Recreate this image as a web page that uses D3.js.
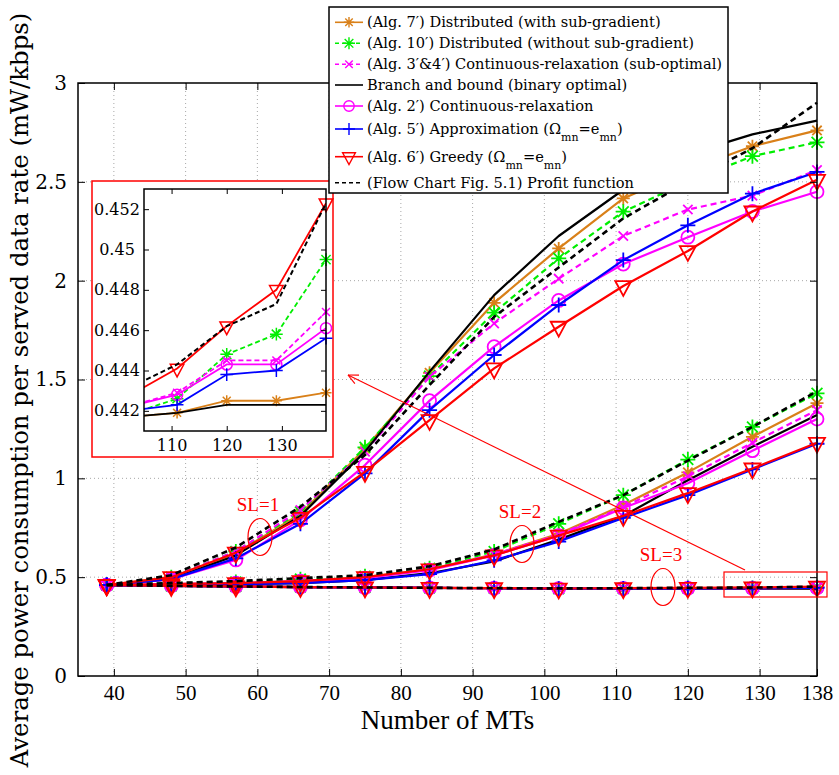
<!DOCTYPE html>
<html><head><meta charset="utf-8">
<script src="https://cdn.jsdelivr.net/npm/d3@7"></script>
<style>body{margin:0;background:#fff}</style>
</head><body>
<svg id="c" width="839" height="775" xmlns="http://www.w3.org/2000/svg"></svg>
<script>
// ---------- data ----------
const mtCounts=[39,48,57,66,75,84,93,102,111,120,129,138];
const xTickValues=[40,50,60,70,80,90,100,110,120,130,138];
const yTickValues=[0,0.5,1,1.5,2,2.5,3];
const gridX=[40,50,60,70,80,90,100,110,120,130];
const gridY=[0.5,1,1.5,2,2.5];
const insetXTicks=[110,120,130];
const insetYTicks=[0.442,0.444,0.446,0.448,0.45,0.452];
const insetYLabels=['0.442','0.444','0.446','0.448','0.45','0.452'];

// SL=1
const alg7SL1 =[0.46,0.50,0.62,0.82,1.15,1.534,1.888,2.163,2.416,2.56,2.68,2.76];
const alg10SL1=[0.46,0.50,0.63,0.83,1.157,1.517,1.838,2.113,2.349,2.50,2.63,2.70];
const alg34SL1=[0.46,0.50,0.63,0.84,1.135,1.514,1.784,2.01,2.226,2.36,2.43,2.56];
const bnbSL1  =[0.46,0.49,0.61,0.81,1.135,1.54,1.927,2.226,2.46,2.64,2.74,2.81];
const alg2SL1 =[0.46,0.49,0.587,0.79,1.067,1.393,1.666,1.90,2.084,2.22,2.35,2.45];
const alg5SL1 =[0.46,0.49,0.595,0.77,1.025,1.345,1.624,1.877,2.104,2.28,2.44,2.55];
const alg6SL1 =[0.46,0.50,0.624,0.80,1.033,1.295,1.556,1.767,1.973,2.15,2.35,2.51];
const profitSL1=[0.46,0.51,0.65,0.856,1.118,1.472,1.817,2.067,2.315,2.50,2.67,2.90];
// SL=2
const alg7SL2 =[0.46,0.465,0.47,0.48,0.50,0.54,0.615,0.72,0.865,1.03,1.21,1.38];
const alg10SL2=[0.46,0.47,0.475,0.49,0.505,0.545,0.63,0.77,0.915,1.095,1.26,1.43];
const alg34SL2=[0.46,0.465,0.47,0.48,0.50,0.54,0.615,0.715,0.855,1.01,1.18,1.345];
const bnbSL2  =[0.46,0.46,0.465,0.47,0.485,0.52,0.58,0.69,0.81,0.99,1.16,1.32];
const alg2SL2 =[0.46,0.465,0.47,0.48,0.495,0.535,0.61,0.71,0.85,0.975,1.14,1.30];
const alg5SL2 =[0.46,0.46,0.465,0.47,0.485,0.515,0.585,0.68,0.80,0.915,1.045,1.175];
const alg6SL2 =[0.46,0.465,0.47,0.48,0.50,0.54,0.61,0.71,0.81,0.925,1.05,1.18];
const profitSL2=[0.46,0.47,0.48,0.495,0.51,0.555,0.64,0.78,0.915,1.09,1.26,1.44];
// SL=3
const alg7SL3 =[0.460,0.456,0.453,0.450,0.448,0.446,0.444,0.4417,0.4419,0.4425,0.4425,0.4429];
const alg10SL3=[0.460,0.456,0.453,0.450,0.448,0.446,0.444,0.4418,0.4426,0.4448,0.4458,0.4495];
const alg34SL3=[0.460,0.456,0.453,0.450,0.448,0.446,0.444,0.4422,0.4429,0.4445,0.4445,0.4469];
const bnbSL3  =[0.460,0.456,0.453,0.450,0.448,0.446,0.444,0.4417,0.4419,0.4423,0.4423,0.4423];
const alg2SL3 =[0.460,0.456,0.453,0.450,0.448,0.446,0.444,0.4422,0.4428,0.4443,0.4443,0.4461];
const alg5SL3 =[0.460,0.456,0.453,0.450,0.448,0.446,0.444,0.4420,0.4423,0.4438,0.4440,0.4456];
const alg6SL3 =[0.460,0.456,0.453,0.450,0.448,0.446,0.4445,0.4427,0.4441,0.4462,0.4480,0.4523];
const profitSL3=[0.460,0.456,0.453,0.450,0.448,0.446,0.4447,0.4431,0.4443,0.4462,0.4473,0.4523];

const seriesNames=[
 '(Alg. 7′) Distributed (with sub-gradient)',
 '(Alg. 10′) Distributed (without sub-gradient)',
 '(Alg. 3′&4′) Continuous-relaxation (sub-optimal)',
 'Branch and bound (binary optimal)',
 '(Alg. 2′) Continuous-relaxation',
 '(Alg. 5′) Approximation (Ω',
 '(Alg. 6′) Greedy (Ω',
 '(Flow Chart Fig. 5.1) Profit function'
];
const seriesColors=['#d98019','#00ee00','#ff00ff','#000000','#ff00ff','#0000ff','#ff0000','#000000'];
const seriesDash=[null,'6,4','6,4',null,null,null,null,'6,4'];
const seriesMarker=['star','bigstar','x',null,'circle','plus','tri',null];
const seriesSL1=[alg7SL1,alg10SL1,alg34SL1,bnbSL1,alg2SL1,alg5SL1,alg6SL1,profitSL1];
const seriesSL2=[alg7SL2,alg10SL2,alg34SL2,bnbSL2,alg2SL2,alg5SL2,alg6SL2,profitSL2];
const seriesSL3=[alg7SL3,alg10SL3,alg34SL3,bnbSL3,alg2SL3,alg5SL3,alg6SL3,profitSL3];

// ---------- drawing ----------
const svg=d3.select('#c');
const L=78,R=817,T=83,B=676;
const x=d3.scaleLinear().domain([35,138]).range([L,R]);
const y=d3.scaleLinear().domain([0,3]).range([B,T]);
const serif='"DejaVu Serif", serif';
const times='"Liberation Serif", "Times New Roman", serif';

svg.append('rect').attr('width',839).attr('height',775).attr('fill','#fff');

// grid
const grid=svg.append('g');
grid.selectAll('.gx').data(gridX).join('line')
  .attr('x1',d=>x(d)).attr('x2',d=>x(d)).attr('y1',T).attr('y2',B)
  .attr('stroke','#a8a8a8').attr('stroke-width',1).attr('stroke-dasharray','1,3');
grid.selectAll('.gy').data(gridY).join('line')
  .attr('y1',d=>y(d)).attr('y2',d=>y(d)).attr('x1',L).attr('x2',R)
  .attr('stroke','#a8a8a8').attr('stroke-width',1).attr('stroke-dasharray','1,3');

function markerPath(type,s){
  const k=s*0.72;
  if(type==='star'||type==='bigstar') return `M${-s},0H${s}M0,${-s}V${s}M${-k},${-k}L${k},${k}M${-k},${k}L${k},${-k}`;
  if(type==='x') return `M${-k},${-k}L${k},${k}M${-k},${k}L${k},${-k}`;
  if(type==='plus') return `M${-s},0H${s}M0,${-s}V${s}`;
  if(type==='tri'){const w=s, a=s*0.62; return `M${-w},${-a}L${w},${-a}L0,${2*a}Z`;}
  return '';
}
function drawMarker(g,type,color,cx,cy,scale,sw){
  if(!type) return;
  if(type==='circle'){
    g.append('circle').attr('cx',cx).attr('cy',cy).attr('r',6.5*scale)
     .attr('fill','none').attr('stroke',color).attr('stroke-width',sw);
    return;
  }
  const base={star:6.5,bigstar:7.5,x:6.5,plus:7.5,tri:8}[type];
  g.append('path').attr('d',markerPath(type,base*scale))
   .attr('transform',`translate(${cx},${cy})`)
   .attr('fill','none').attr('stroke',color).attr('stroke-width',sw).attr('stroke-linejoin','miter');
}

const lineGen=d3.line().x(d=>x(d[0])).y(d=>y(d[1]));
const plot=svg.append('g');
seriesNames.forEach((nm,i)=>{
  [seriesSL1[i],seriesSL2[i],seriesSL3[i]].forEach(vals=>{
    const pts=mtCounts.map((m,j)=>[m,vals[j]]);
    plot.append('path').attr('d',lineGen(pts)).attr('fill','none')
      .attr('stroke',seriesColors[i]).attr('stroke-width',i===7?2.6:2.2)
      .attr('stroke-dasharray',seriesDash[i]).attr('stroke-linejoin','round');
    pts.forEach(p=>drawMarker(plot,seriesMarker[i],seriesColors[i],x(p[0]),y(p[1]),1,1.8));
  });
});

// axes box
svg.append('rect').attr('x',L).attr('y',T).attr('width',R-L).attr('height',B-T)
  .attr('fill','none').attr('stroke','#000').attr('stroke-width',1.5);
const ax=svg.append('g');
const xb=d3.axisBottom(x).tickValues(xTickValues).tickSize(-7).tickPadding(9).tickFormat(d3.format('d'));
ax.append('g').attr('transform',`translate(0,${B})`).call(xb)
  .call(g=>{g.select('.domain').remove();g.selectAll('text').attr('font-family',times).attr('font-size',21).attr('fill','#000');g.selectAll('line').attr('stroke','#000');});
ax.append('g').attr('transform',`translate(0,${T})`).call(d3.axisTop(x).tickValues(xTickValues.slice(0,-1)).tickSize(-7).tickFormat(''))
  .call(g=>{g.select('.domain').remove();g.selectAll('line').attr('stroke','#000');});
ax.append('g').attr('transform',`translate(${L},0)`).call(d3.axisLeft(y).tickValues(yTickValues).tickSize(-7).tickPadding(11).tickFormat(d3.format('')))
  .call(g=>{g.select('.domain').remove();g.selectAll('text').attr('font-family',serif).attr('font-size',20).attr('fill','#000');g.selectAll('line').attr('stroke','#000');});
ax.append('g').attr('transform',`translate(${R},0)`).call(d3.axisRight(y).tickValues(yTickValues).tickSize(-7).tickFormat(''))
  .call(g=>{g.select('.domain').remove();g.selectAll('line').attr('stroke','#000');});

// axis titles
svg.append('text').attr('x',(L+R)/2).attr('y',729).attr('text-anchor','middle')
  .attr('font-family',times).attr('font-size',27).text('Number of MTs');
svg.append('text').attr('transform','translate(28,390) rotate(-90)').attr('text-anchor','middle')
  .attr('font-family',serif).attr('font-size',24.4).text('Average power consumption per served data rate (mW/kbps)');

// ---------- inset ----------
const IL=144,IR=326,IT=189,IB=431;
svg.append('rect').attr('x',92).attr('y',181).attr('width',241).attr('height',276)
  .attr('fill','#fff').attr('stroke','#ff0000').attr('stroke-width',1.5);
const xi=d3.scaleLinear().domain([105,138]).range([IL,IR]);
const yi=d3.scaleLinear().domain([0.441,0.453]).range([IB,IT]);
svg.append('clipPath').attr('id','ic').append('rect').attr('x',IL).attr('y',IT).attr('width',IR-IL).attr('height',IB-IT);
const ig=svg.append('g');
const lineI=d3.line().x(d=>xi(d[0])).y(d=>yi(d[1]));
seriesNames.forEach((nm,i)=>{
  const vals=seriesSL3[i];
  const pts=mtCounts.map((m,j)=>[m,vals[j]]).filter(p=>p[0]>=93);
  ig.append('path').attr('d',lineI(pts)).attr('fill','none').attr('clip-path','url(#ic)')
    .attr('stroke',seriesColors[i]).attr('stroke-width',i===7?2:1.8)
    .attr('stroke-dasharray',seriesDash[i]?'5,3':null);
  pts.filter(p=>p[0]>=105).forEach(p=>drawMarker(ig,seriesMarker[i],seriesColors[i],xi(p[0]),yi(p[1]),0.85,1.5));
});
svg.append('rect').attr('x',IL).attr('y',IT).attr('width',IR-IL).attr('height',IB-IT)
  .attr('fill','none').attr('stroke','#000').attr('stroke-width',1.5);
const iax=svg.append('g');
iax.append('g').attr('transform',`translate(0,${IB})`).call(d3.axisBottom(xi).tickValues(insetXTicks).tickSize(-5).tickPadding(9).tickFormat(d3.format('d')))
  .call(g=>{g.select('.domain').remove();g.selectAll('text').attr('font-family',serif).attr('font-size',16).attr('fill','#000');g.selectAll('line').attr('stroke','#000');});
iax.append('g').attr('transform',`translate(0,${IT})`).call(d3.axisTop(xi).tickValues(insetXTicks).tickSize(-5).tickFormat(''))
  .call(g=>{g.select('.domain').remove();g.selectAll('line').attr('stroke','#000');});
iax.append('g').attr('transform',`translate(${IL},0)`).call(d3.axisLeft(yi).tickValues(insetYTicks).tickSize(-5).tickFormat((d,i)=>insetYLabels[i]))
  .call(g=>{g.select('.domain').remove();g.selectAll('text').attr('font-family',serif).attr('font-size',16).attr('fill','#000').attr('text-anchor','middle').attr('x',117-IL);g.selectAll('line').attr('stroke','#000');});
iax.append('g').attr('transform',`translate(${IR},0)`).call(d3.axisRight(yi).tickValues(insetYTicks).tickSize(-5).tickFormat(''))
  .call(g=>{g.select('.domain').remove();g.selectAll('line').attr('stroke','#000');});

// ---------- annotations ----------
const ann=svg.append('g').attr('fill','none').attr('stroke','#ff0000').attr('stroke-width',1.2);
ann.append('rect').attr('x',724).attr('y',572).attr('width',103).attr('height',25);
ann.append('line').attr('x1',745).attr('y1',570).attr('x2',348).attr('y2',375);
(function(){const tx=348,ty=375,ang=Math.atan2(570-375,745-348);
  [ang-0.44,ang+0.44].forEach(a=>ann.append('line').attr('x1',tx).attr('y1',ty)
    .attr('x2',tx+11*Math.cos(a)).attr('y2',ty+11*Math.sin(a)));})();
const slLabels=[['SL=1',258,537],['SL=2',520,544],['SL=3',661,587]];
slLabels.forEach(s=>{
  ann.append('ellipse').attr('cx',s[1]+2).attr('cy',s[2]).attr('rx',12).attr('ry',18.5);
  svg.append('text').attr('x',s[1]).attr('y',s[2]-26).attr('text-anchor','middle')
    .attr('font-family',times).attr('font-size',19).attr('fill','#ff0000').text(s[0]);
});

// ---------- legend ----------
const lg=svg.append('g');
lg.append('rect').attr('x',329).attr('y',7).attr('width',399).attr('height',186)
  .attr('fill','#fff').attr('stroke','#000').attr('stroke-width',1.5);
const rowY=[22.3,43.3,64.3,85,106,129,156.7,182.7];
seriesNames.forEach((nm,i)=>{
  const yy=rowY[i];
  lg.append('line').attr('x1',335).attr('x2',363).attr('y1',yy).attr('y2',yy)
    .attr('stroke',seriesColors[i]).attr('stroke-width',1.6)
    .attr('stroke-dasharray',seriesDash[i]?'4,3':null);
  drawMarker(lg,seriesMarker[i],seriesColors[i],349,yy,0.8,1.4);
  const t=lg.append('text').attr('x',367).attr('y',yy+5).attr('font-family',serif).attr('font-size',14.6).attr('fill','#000');
  t.append('tspan').text(nm);
  if(i===5||i===6){
    t.append('tspan').attr('dy',7).attr('font-size',11).text('mn');
    t.append('tspan').attr('dy',-7).text('=e');
    t.append('tspan').attr('dy',7).attr('font-size',11).text('mn');
    t.append('tspan').attr('dy',-7).text(')');
  }
});
</script>
</body></html>
